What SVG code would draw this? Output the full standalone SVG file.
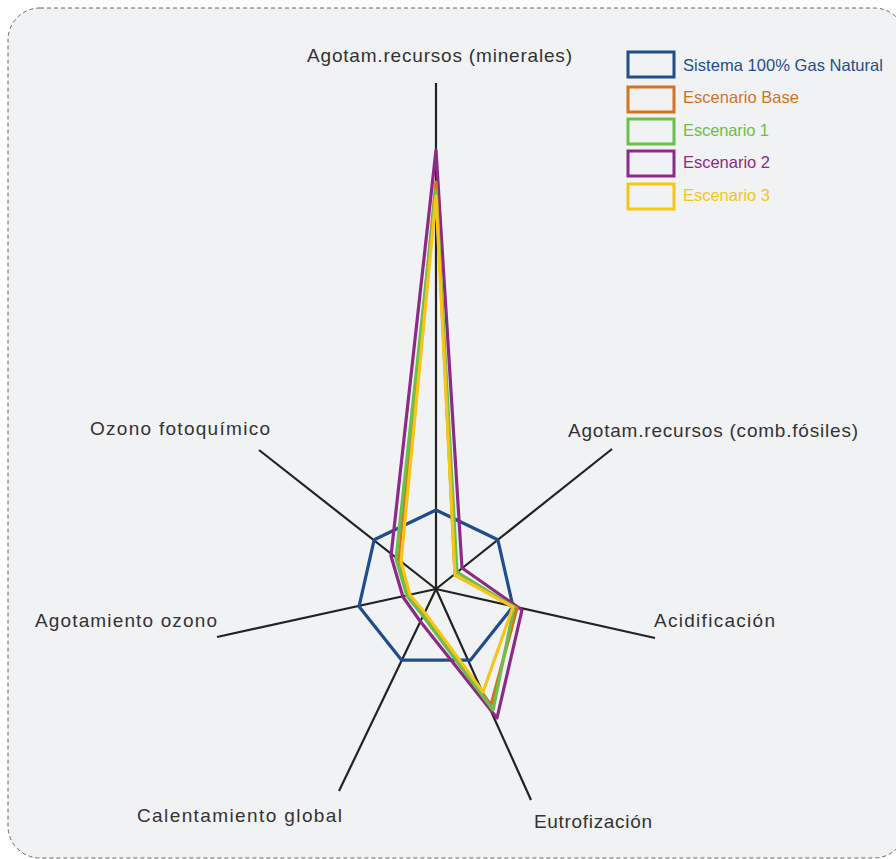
<svg xmlns="http://www.w3.org/2000/svg" width="896" height="859" viewBox="0 0 896 859">
  <style>
    .frame { fill: #f1f2f4; stroke: #666; stroke-width: 1; stroke-dasharray: 4 3; }
    .axis { stroke: #222; stroke-width: 2.2; fill: none; }
    .series { fill: none; stroke-width: 3.2; stroke-linejoin: round; }
    .lbl { font-family: "Liberation Sans", Arial, sans-serif; font-size: 19px; fill: #333; }
    .leg { font-family: "Liberation Sans", Arial, sans-serif; font-size: 16.5px; }
    .legbox { fill: none; stroke-width: 3; }
  </style>
  <rect width="896" height="859" fill="#ffffff"/>
  <rect class="frame" x="8" y="8" width="898" height="850" rx="32" ry="32"/>

  <!-- radial axes -->
  <g id="axes">
    <line class="axis" x1="436" y1="589" x2="436" y2="83"/>
    <line class="axis" x1="436" y1="589" x2="612" y2="449"/>
    <line class="axis" x1="436" y1="589" x2="655" y2="638"/>
    <line class="axis" x1="436" y1="589" x2="531" y2="800"/>
    <line class="axis" x1="436" y1="589" x2="339" y2="791"/>
    <line class="axis" x1="436" y1="589" x2="217" y2="637"/>
    <line class="axis" x1="436" y1="589" x2="259" y2="450"/>
  </g>

  <!-- data series -->
  <g id="series">
    <polygon id="s-gas" class="series" stroke="#1f4e8c" points="436,510 497.8,539.7 513,606.6 470.3,660.2 401.7,660.2 359,606.6 374.2,539.7"/>
    <polygon id="s-e2" class="series" stroke="#8b2a87" points="436,150 462,568 522,610 497,718 420,621 403,597 391,556"/>
    <polygon id="s-base" class="series" stroke="#d4731f" points="436,182 455,575 517,608 491,705 424,614 409,595 399,561"/>
    <polygon id="s-e1" class="series" stroke="#6cbf4a" points="436,190 457,572 514,607 493,710 423,616 407,596 396,559"/>
    <polygon id="s-e3" class="series" stroke="#f5c518" points="436,196 455,575 513,607 483,692 425,613 410,595 401,562"/>
  </g>

  <!-- axis labels -->
  <g id="labels">
    <text class="lbl" x="307" y="62" textLength="265">Agotam.recursos (minerales)</text>
    <text class="lbl" x="568" y="437" textLength="290">Agotam.recursos (comb.fósiles)</text>
    <text class="lbl" x="654" y="627" textLength="121">Acidificación</text>
    <text class="lbl" x="534" y="828" textLength="118">Eutrofización</text>
    <text class="lbl" x="137" y="822" textLength="205">Calentamiento global</text>
    <text class="lbl" x="35" y="627" textLength="182">Agotamiento ozono</text>
    <text class="lbl" x="90" y="435" textLength="180">Ozono fotoquímico</text>
  </g>

  <!-- legend -->
  <g id="legend">
    <g id="leg-gas">
      <rect class="legbox" x="628" y="52" width="46" height="25" stroke="#1f4e8c"/>
      <text class="leg" x="683" y="71" fill="#1f4e8c" textLength="200">Sistema 100% Gas Natural</text>
    </g>
    <g id="leg-base">
      <rect class="legbox" x="628" y="87" width="46" height="25" stroke="#d4731f"/>
      <text class="leg" x="683" y="103" fill="#d4731f" textLength="116">Escenario Base</text>
    </g>
    <g id="leg-e1">
      <rect class="legbox" x="628" y="119" width="46" height="25" stroke="#6cbf4a"/>
      <text class="leg" x="683" y="136" fill="#6cbf4a" textLength="86">Escenario 1</text>
    </g>
    <g id="leg-e2">
      <rect class="legbox" x="628" y="151" width="46" height="25" stroke="#8b2a87"/>
      <text class="leg" x="683" y="168" fill="#8b2a87" textLength="87">Escenario 2</text>
    </g>
    <g id="leg-e3">
      <rect class="legbox" x="628" y="184" width="46" height="25" stroke="#f5c518"/>
      <text class="leg" x="683" y="201" fill="#f5c518" textLength="87">Escenario 3</text>
    </g>
  </g>
</svg>
